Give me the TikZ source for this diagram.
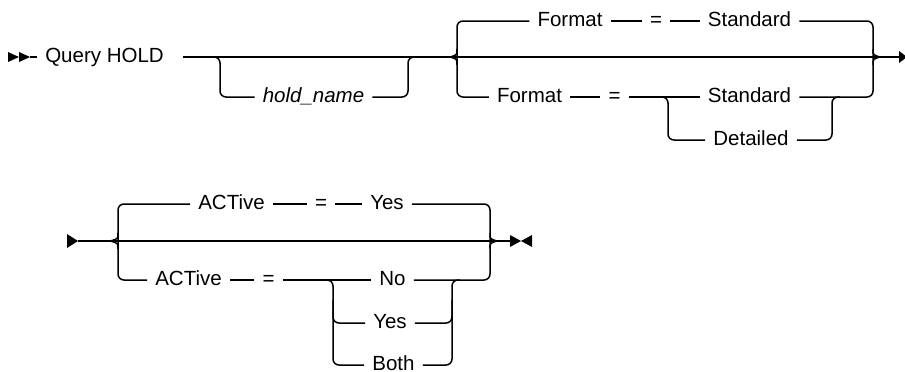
\documentclass[tikz,border=0pt]{standalone}
\usepackage{fontspec}
\setmainfont{Liberation Sans}
\usetikzlibrary{positioning}
\newcommand{\lblfont}{\fontsize{20.5}{24}\selectfont}

\begin{document}
\lblfont
\begin{tikzpicture}[x=1pt,y=-1pt,
rail/.style={line width=1.5pt,rounded corners=6pt},
cusp/.style={line width=1.5pt},
lbl/.style={anchor=mid,inner xsep=8pt,inner ysep=0pt,font=\lblfont}]
\useasboundingbox (0,0) rectangle (905,372);
\node[lbl] (query) at (104.5,57) {Query HOLD};
\node[lbl,font=\lblfont\itshape] (holdname) at (313.5,97) {hold\_name};
\node[lbl] (fmtA) at (570,21) {Format};
\node[lbl] (eqA) at (656,21) {=};
\node[lbl] (stdA) at (749.5,21) {Standard};
\node[lbl] (fmtB) at (529.5,97) {Format};
\node[lbl] (eqB) at (614.5,97) {=};
\node[lbl] (stdB) at (749.5,97) {Standard};
\node[lbl] (detB) at (751,140) {Detailed};
\coordinate (startA) at (30,57);
\coordinate (endA) at (899,57);
\fill (8,52) -- (19,57) -- (8,62) -- cycle;
\fill (19,52) -- (30,57) -- (19,62) -- cycle;
\draw[rail] (startA) -- (query.mid west);
\draw[rail] ([xshift=11pt]query.mid east) -- (endA);
\draw[rail] (210,57) -- (220,57) -- (220,97) -- (holdname.mid west);
\draw[rail] (holdname.mid east) -- (408,97) -- (408,57) -- (418,57);
\draw[rail] (fmtA.mid west) -- (457,21) -- (457,97) -- (fmtB.mid west);
\draw[cusp] (457,49) .. controls (457,55) .. (450,57) .. controls (457,59) .. (457,65);
\draw[rail] (fmtA.mid east) -- (eqA.mid west) (eqA.mid east) -- (stdA.mid west);
\draw[rail] (fmtB.mid east) -- (eqB.mid west) (eqB.mid east) -- (stdB.mid west);
\draw[rail] (660,97) -- (668,97) -- (668,140) -- (detB.mid west);
\draw[rail] (detB.mid east) -- (832,140) -- (832,97) -- (840,97);
\draw[rail] (stdA.mid east) -- (873,21) -- (873,97) -- (stdB.mid east);
\draw[cusp] (873,49) .. controls (873,55) .. (880,57) .. controls (873,59) .. (873,65);
\fill (899,51) -- (907,57) -- (899,63) -- cycle;
\node[lbl] (actA) at (231.5,204) {ACTive};
\node[lbl] (eqC) at (321,204) {=};
\node[lbl] (yesA) at (387,204) {Yes};
\node[lbl] (actB) at (188.5,280) {ACTive};
\node[lbl] (eqD) at (268.5,280) {=};
\node[lbl] (no) at (392.5,280) {No};
\node[lbl] (yesB) at (390,323) {Yes};
\node[lbl] (both) at (393.5,365) {Both};
\coordinate (startB) at (78,241);
\coordinate (endB) at (510,241);
\fill (67,234) -- (78,241) -- (67,248) -- cycle;
\draw[rail] (startB) -- (endB);
\draw[rail] (actA.mid west) -- (118,204) -- (118,280) -- (actB.mid west);
\draw[cusp] (118,233) .. controls (118,239) .. (110,241) .. controls (118,243) .. (118,249);
\draw[rail] (actA.mid east) -- (eqC.mid west) (eqC.mid east) -- (yesA.mid west);
\draw[rail] (actB.mid east) -- (eqD.mid west) (eqD.mid east) -- (no.mid west);
\draw[rail] (325,280) -- (333,280) -- (333,365) -- (both.mid west);
\draw[rail] (333,300) -- (333,323) -- (yesB.mid west);
\draw[rail] (both.mid east) -- (452,365) -- (452,280) -- (460,280);
\draw[rail] (yesB.mid east) -- (452,323) -- (452,300);
\draw[rail] (yesA.mid east) -- (490,204) -- (490,280) -- (no.mid east);
\draw[cusp] (490,233) .. controls (490,239) .. (497,241) .. controls (490,243) .. (490,249);
\fill (510,235) -- (521,241) -- (510,247) -- cycle;
\fill (532,235) -- (521,241) -- (532,247) -- cycle;
\end{tikzpicture}
\end{document}
